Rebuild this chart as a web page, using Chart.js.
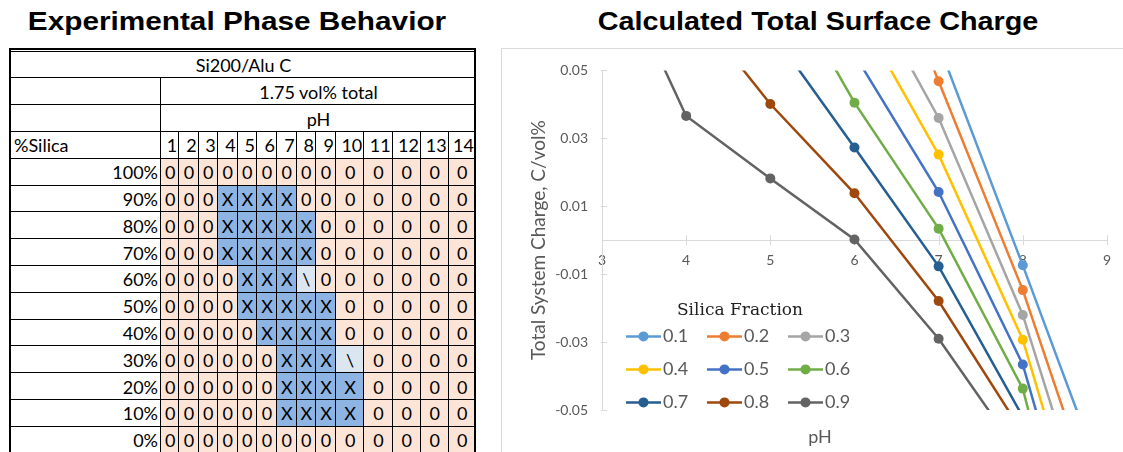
<!DOCTYPE html>
<html>
<head>
<meta charset="utf-8">
<script src="https://cdn.jsdelivr.net/npm/chart.js@4.4.1/dist/chart.umd.min.js"></script>
<style>
  body { margin: 0; width: 1123px; height: 452px; overflow: hidden; background: #fff; position: relative; font-family: Lato, sans-serif; }
  .title { position: absolute; top: 6px; font-family: "Liberation Sans", Arial, sans-serif; font-weight: bold; font-size: 25px; line-height: 30px; text-align: center; white-space: nowrap; color: #000; }
  #phaseTable { position: absolute; left: 0; top: 0; width: 480px; height: 452px; }
  .cell { position: absolute; box-sizing: border-box; border-left: 1px solid #000; border-top: 1px solid #000; font-size: 18px; color: #000; display: flex; align-items: center; justify-content: center; white-space: nowrap; overflow: hidden; }
  .frame { position: absolute; left: 9px; top: 48px; width: 467px; height: 420px; box-sizing: border-box; border: 2px solid #000; border-bottom: none; pointer-events: none; }
  #panel { position: absolute; left: 501px; top: 48px; width: 700px; height: 500px; border: 1px solid #d9d9d9; box-sizing: border-box; }
  #wrap { position: absolute; left: 501px; top: 48px; width: 622px; height: 404px; }
</style>
</head>
<body>
<div class="title" style="left:0;width:474px;transform:scaleX(1.19);">Experimental Phase Behavior</div>
<div class="title" style="left:560px;width:516px;transform:scaleX(1.15);">Calculated Total Surface Charge</div>
<div id="phaseTable"></div>
<div id="panel"></div>
<div id="wrap"><canvas id="chargeChart"></canvas></div>

<script>
// ---- experimental phase table ----
const tableTitle = "Si200/Alu C";
const tableConcentration = "1.75 vol% total";
const tableAxisName = "pH";
const tableRowHeader = "%Silica";
const phColumns = ["1", "2", "3", "4", "5", "6", "7", "8", "9", "10", "11", "12", "13", "14"];
const silicaRows = ["100%", "90%", "80%", "70%", "60%", "50%", "40%", "30%", "20%", "10%", "0%"];
const phaseRows = [
    ["0","0","0","0","0","0","0","0","0","0","0","0","0","0"],
    ["0","0","0","X","X","X","X","0","0","0","0","0","0","0"],
    ["0","0","0","X","X","X","X","X","0","0","0","0","0","0"],
    ["0","0","0","X","X","X","X","X","0","0","0","0","0","0"],
    ["0","0","0","0","X","X","X","\\","0","0","0","0","0","0"],
    ["0","0","0","0","X","X","X","X","X","0","0","0","0","0"],
    ["0","0","0","0","0","X","X","X","X","0","0","0","0","0"],
    ["0","0","0","0","0","0","X","X","X","\\","0","0","0","0"],
    ["0","0","0","0","0","0","X","X","X","X","0","0","0","0"],
    ["0","0","0","0","0","0","X","X","X","X","0","0","0","0"],
    ["0","0","0","0","0","0","0","0","0","0","0","0","0","0"],
];

// ---- calculated surface charge ----
const phValues = [3, 4, 5, 6, 7, 8, 9];
const fractionLabels = ["0.1", "0.2", "0.3", "0.4", "0.5", "0.6", "0.7", "0.8", "0.9"];
const charge01 = [null, null, null, null, 0.0576, -0.0074, -0.074];
const charge02 = [null, null, null, 0.108, 0.0468, -0.0147, -0.088];
const charge03 = [null, null, null, 0.081, 0.036, -0.022, -0.101];
const charge04 = [null, null, null, 0.069, 0.0252, -0.0293, -0.113];
const charge05 = [null, null, null, 0.0547, 0.0142, -0.0366, -0.123];
const charge06 = [null, null, 0.0839, 0.0405, 0.0034, -0.0437, -0.14];
const charge07 = [null, null, 0.0619, 0.0273, -0.0077, -0.052, null];
const charge08 = [null, 0.0713, 0.0401, 0.0138, -0.0179, -0.0568, null];
const charge09 = [0.090, 0.0366, 0.0182, 0.0002, -0.029, -0.0645, null];
const chargeSeries = [charge01, charge02, charge03, charge04, charge05, charge06, charge07, charge08, charge09];
const seriesColors = ["#5b9bd5", "#ed7d31", "#a5a5a5", "#ffc000", "#4472c4", "#70ad47", "#255e91", "#9e480e", "#636363"];
const xTickValues = [3, 4, 5, 6, 7, 8, 9];
const yTickValues = [-0.05, -0.03, -0.01, 0.01, 0.03, 0.05];
const xAxisTitle = "pH";
const yAxisTitle = "Total System Charge, C/vol%";
const legendTitle = "Silica Fraction";

// build the table out of positioned cells
const tableEl = document.getElementById("phaseTable");
const colEdges = [10, 160, 178.3, 197.7, 216.7, 236.7, 256, 276, 295.7, 315, 335, 363.3, 391.7, 420, 447.7, 475];
const rowTop = 50.6, rowH = 26.8;
const fills = { "0": "#fce4d6", "X": "#8db4e2", "\\": "#dce6f1" };

function addCell(x0, x1, row, text, opts) {
    opts = opts || {};
    const d = document.createElement("div");
    d.className = "cell";
    d.style.left = x0 + "px";
    d.style.top = (rowTop + row * rowH) + "px";
    d.style.width = (x1 - x0 + 1) + "px";
    d.style.height = (rowH + 1) + "px";
    if (opts.bg) d.style.background = opts.bg;
    if (opts.align === "right") { d.style.justifyContent = "flex-end"; d.style.paddingRight = (opts.pad || 2) + "px"; }
    if (opts.align === "left") { d.style.justifyContent = "flex-start"; d.style.paddingLeft = (opts.pad || 3) + "px"; }
    d.textContent = text;
    tableEl.appendChild(d);
}

const last = colEdges.length - 1;
addCell(colEdges[0], colEdges[last], 0, tableTitle);
addCell(colEdges[0], colEdges[1], 1, "");
addCell(colEdges[1], colEdges[last], 1, tableConcentration);
addCell(colEdges[0], colEdges[1], 2, "");
addCell(colEdges[1], colEdges[last], 2, tableAxisName);
addCell(colEdges[0], colEdges[1], 3, tableRowHeader, { align: "left" });
phColumns.forEach((p, j) => addCell(colEdges[j + 1], colEdges[j + 2], 3, p, { align: "right", pad: 2 }));
silicaRows.forEach((s, i) => {
    addCell(colEdges[0], colEdges[1], 4 + i, s, { align: "right", pad: 3 });
    phaseRows[i].forEach((v, j) => addCell(colEdges[j + 1], colEdges[j + 2], 4 + i, v, { bg: fills[v] }));
});
const frame = document.createElement("div");
frame.className = "frame";
tableEl.appendChild(frame);

// ---- chart ----
const axisGray = "#d9d9d9";
const textGray = "#595959";

// little tick marks that cross / sit inside the axes, like the spreadsheet chart
const axisTicks = {
    id: "axisTicks",
    beforeDatasetsDraw(chart) {
        const { ctx, chartArea, scales } = chart;
        const y0 = scales.y.getPixelForValue(0);
        ctx.save();
        ctx.strokeStyle = axisGray;
        ctx.lineWidth = 1;
        ctx.beginPath();
        xTickValues.forEach(v => {
            const px = Math.round(scales.x.getPixelForValue(v)) + 0.5;
            ctx.moveTo(px, y0 - 5);
            ctx.lineTo(px, y0 + 5);
        });
        yTickValues.forEach(v => {
            const py = Math.round(scales.y.getPixelForValue(v)) + 0.5;
            ctx.moveTo(chartArea.left - 1, py);
            ctx.lineTo(chartArea.left + 5, py);
        });
        ctx.stroke();
        ctx.restore();
    }
};

// legend inside the plot (3 columns, line + marker) and the pH title under it
const fractionLegend = {
    id: "fractionLegend",
    afterDraw(chart) {
        const { ctx, chartArea } = chart;
        ctx.save();
        ctx.fillStyle = "#222";
        ctx.font = '17px "DejaVu Serif", serif';
        ctx.textAlign = "center";
        ctx.textBaseline = "middle";
        ctx.fillText(legendTitle, chartArea.left + 138, chartArea.top + 240);
        chart.data.datasets.forEach((ds, i) => {
            const lx = chartArea.left + 24 + (i % 3) * 81;
            const ly = chartArea.top + 266 + Math.floor(i / 3) * 33;
            ctx.strokeStyle = ds.borderColor;
            ctx.lineWidth = 2.5;
            ctx.beginPath();
            ctx.moveTo(lx, ly);
            ctx.lineTo(lx + 35, ly);
            ctx.stroke();
            ctx.fillStyle = ds.borderColor;
            ctx.beginPath();
            ctx.arc(lx + 17.5, ly, 5, 0, Math.PI * 2);
            ctx.fill();
            ctx.fillStyle = textGray;
            ctx.font = "18px Lato, sans-serif";
            ctx.textAlign = "left";
            ctx.fillText(ds.label, lx + 37, ly);
        });
        ctx.fillStyle = textGray;
        ctx.font = "18px Lato, sans-serif";
        ctx.textAlign = "center";
        ctx.fillText(xAxisTitle, chartArea.left + 218, chart.height - 15);
        ctx.restore();
    }
};

const datasets = fractionLabels.map((lab, i) => ({
    label: lab,
    data: phValues.map((x, j) => ({ x: x, y: chargeSeries[i][j] })),
    borderColor: seriesColors[i],
    backgroundColor: seriesColors[i],
    pointBackgroundColor: seriesColors[i],
    borderWidth: 2.5,
    pointRadius: 5,
    pointBorderWidth: 0,
    tension: 0,
}));

let chart = new Chart(document.getElementById("chargeChart"), {
    type: "line",
    data: { datasets: datasets },
    plugins: [axisTicks, fractionLegend],
    options: {
        responsive: true,
        maintainAspectRatio: false,
        animation: false,
        layout: { padding: { left: 22, top: 19, right: 7, bottom: 42 } },
        plugins: {
            legend: { display: false },
            tooltip: { enabled: false },
        },
        scales: {
            x: {
                type: "linear",
                min: 3,
                max: 9,
                position: { y: 0 },
                afterBuildTicks: s => { s.ticks = xTickValues.map(v => ({ value: v })); },
                grid: { drawOnChartArea: false, drawTicks: false },
                border: { color: axisGray, width: 1 },
                ticks: {
                    color: textGray,
                    font: { family: "Lato", size: 14 },
                    padding: 12,
                    maxRotation: 0,
                    callback: v => String(v),
                },
            },
            y: {
                type: "linear",
                min: -0.05,
                max: 0.05,
                position: "left",
                afterBuildTicks: s => { s.ticks = yTickValues.map(v => ({ value: v })); },
                afterFit: s => { s.width = 79; },
                grid: { drawOnChartArea: false, drawTicks: false },
                border: { color: axisGray, width: 1 },
                ticks: {
                    color: textGray,
                    font: { family: "Lato", size: 14 },
                    padding: 14,
                    callback: v => v.toFixed(2),
                },
                title: {
                    display: true,
                    text: yAxisTitle,
                    color: textGray,
                    font: { family: "Lato", size: 19 },
                    padding: { top: 4, bottom: 4 },
                },
            },
        },
    },
});
</script>
</body>
</html>
